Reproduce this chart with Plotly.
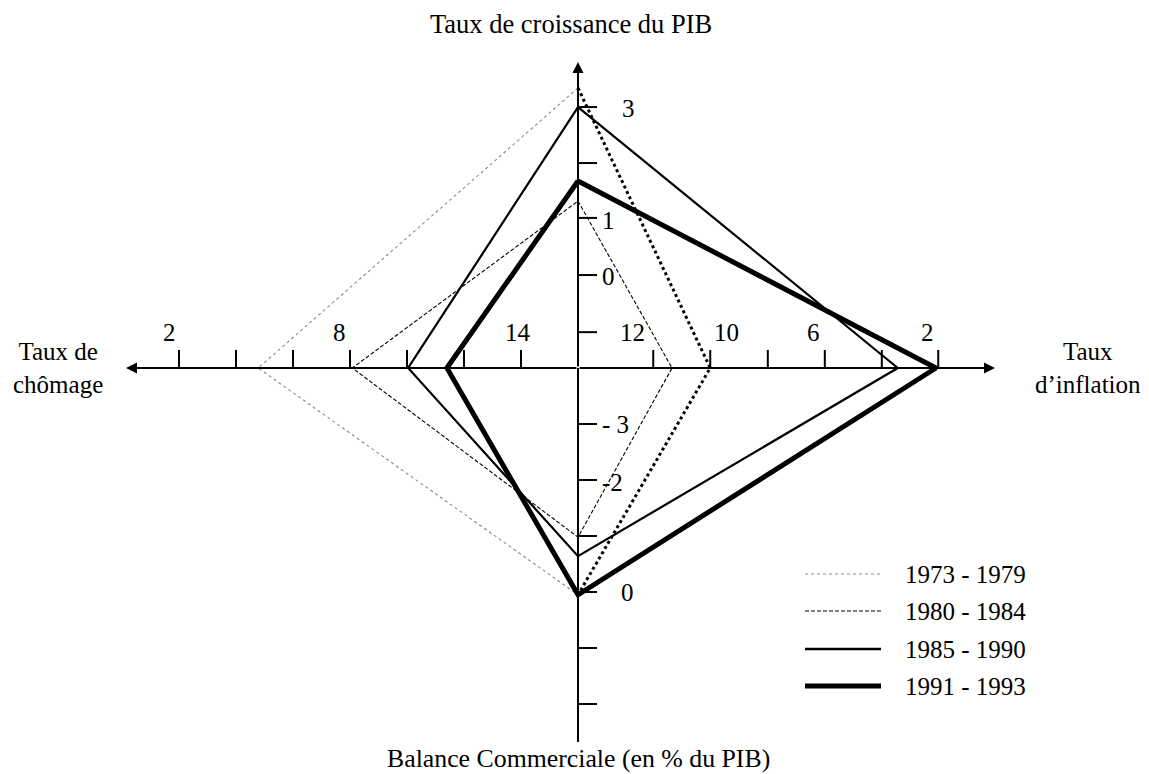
import plotly.graph_objects as go

# ---------------- data (in tick-step units from the centre) ----------------
periods = ["1973 - 1979", "1980 - 1984", "1985 - 1990", "1991 - 1993"]
growth = [5.00, 2.98, 4.66, 3.34]          # up   : Taux de croissance du PIB
inflation = [2.32, 1.65, 5.61, 6.28]       # right: Taux d'inflation
balance = [4.05, 3.02, 3.36, 4.05]         # down : Balance commerciale
unemployment = [5.61, 3.96, 2.98, 2.30]    # left : Taux de chômage

# tick marks on each half-axis
ticks_left = [-7, -6, -5, -4, -3, -2, -1]
ticks_right = [1.32, 2.32, 3.33, 4.33, 5.33, 6.32]
ticks_up = [0.64, 1.66, 2.68, 3.66, 4.66]
ticks_down = [-1, -2, -3, -4, -5, -6]

# tick labels (as printed in the original)
labels_left = ["2", "8", "14"]
labels_left_x = [-7.16, -4.18, -1.05]
labels_right = ["12", "10", "6", "2"]
labels_right_x = [0.95, 2.61, 4.14, 6.14]
labels_vert = ["3", "1", "0", "- 3", "-2", "0"]
labels_vert_y = [4.64, 2.64, 1.63, -1.00, -2.05, -4.00]
labels_vert_x = [0.74, 0.39, 0.39, 0.39, 0.39, 0.72]

OFF = 8  # page body margin
W, H = 1149 - OFF, 774 - OFF
CX, CY = 578, 368
UX, UY = 57.0, 56.0
FONT = "Liberation Serif, Times New Roman, serif"
FS = 25
FT = 26.5


def X(px):
    return (px - CX) / UX


def Y(py):
    return (CY - py) / UY


fig = go.Figure()

styles = [
    dict(color="#8a8a8a", width=1.1, dash="dot"),
    dict(color="black", width=1.1, dash="4px,2px"),
    dict(color="black", width=2.2, dash="solid"),
    dict(color="black", width=5, dash="solid"),
]

for i, p in enumerate(periods):
    up, rt, dn, lf = growth[i], inflation[i], balance[i], unemployment[i]
    if i == 0:
        fig.add_trace(go.Scatter(x=[0, -lf, 0], y=[up, 0, -dn], mode="lines",
                                 line=styles[0], name=p, showlegend=False,
                                 hoverinfo="skip"))
        fig.add_trace(go.Scatter(x=[0, rt, 0], y=[up, 0, -dn], mode="lines",
                                 line=dict(color="black", width=3, dash="dot"),
                                 name=p, showlegend=False, hoverinfo="skip"))
    else:
        fig.add_trace(go.Scatter(x=[0, rt, 0, -lf, 0], y=[up, 0, -dn, 0, up],
                                 mode="lines", line=styles[i], name=p,
                                 showlegend=False, hoverinfo="skip"))

axis_w = 2
TL = 18 / UY
TLx = 19 / UX
tx, ty = [], []
for t in ticks_left + ticks_right:
    tx += [t, t, None]
    ty += [0, TL, None]
for t in ticks_up + ticks_down:
    tx += [0, TLx, None]
    ty += [t, t, None]
fig.add_trace(go.Scatter(x=tx, y=ty, mode="lines", line=dict(color="black", width=axis_w),
                         showlegend=False, hoverinfo="skip"))

fig.add_shape(type="line", x0=0, x1=0, y0=0, y1=Y(742), line=dict(color="black", width=axis_w))
for (x0, y0, x1, y1) in [(0, 0, X(126), 0), (0, 0, X(995), 0), (0, 0, 0, Y(62))]:
    fig.add_annotation(x=x1, y=y1, ax=x0, ay=y0, xref="x", yref="y", axref="x", ayref="y",
                       text="", showarrow=True, arrowhead=2, arrowsize=1.1,
                       arrowwidth=axis_w, arrowcolor="black", standoff=0, startstandoff=0)

font = dict(family=FONT, size=FS, color="black")
tfont = dict(family=FONT, size=FT, color="black")
sfont = dict(family=FONT, size=25, color="black")

for t, xx in zip(labels_left, labels_left_x):
    fig.add_annotation(x=xx, y=Y(332), text=t, showarrow=False, font=font,
                       xanchor="center", yanchor="middle")
for t, xx in zip(labels_right, labels_right_x):
    fig.add_annotation(x=xx, y=Y(332), text=t, showarrow=False, font=font,
                       xanchor="center", yanchor="middle")
for t, xx, yy in zip(labels_vert, labels_vert_x, labels_vert_y):
    fig.add_annotation(x=xx, y=yy, text=t, showarrow=False, font=font,
                       xanchor="left", yanchor="middle")

fig.add_annotation(x=X(571), y=Y(24), text="Taux de croissance du PIB", showarrow=False,
                   font=tfont, xanchor="center", yanchor="middle")
fig.add_annotation(x=X(578), y=Y(758), text="Balance Commerciale (en % du PIB)", showarrow=False,
                   font=dict(family=FONT, size=25.8, color="black"),
                   xanchor="center", yanchor="middle")
fig.add_annotation(x=X(58), y=Y(368), text="Taux de<br>chômage", showarrow=False,
                   font=sfont, xanchor="center", yanchor="middle", align="center")
fig.add_annotation(x=X(1088), y=Y(368), text="Taux<br>d’inflation", showarrow=False,
                   font=sfont, xanchor="center", yanchor="middle", align="center")

leg_y = [574, 611, 649, 686]
for i, p in enumerate(periods):
    st = styles[i]
    lw = st["width"]
    if i == 2:
        lw = 2.6
    fig.add_shape(type="line", x0=X(805), x1=X(881), y0=Y(leg_y[i]), y1=Y(leg_y[i]),
                  line=dict(color=st["color"], width=lw, dash=st["dash"]))
    fig.add_annotation(x=X(903), y=Y(leg_y[i]), text=p, showarrow=False, font=font,
                       xanchor="left", yanchor="middle")

fig.update_layout(
    width=W, height=H, margin=dict(l=0, r=0, t=0, b=0),
    paper_bgcolor="white", plot_bgcolor="white", showlegend=False,
    xaxis=dict(range=[X(OFF), X(OFF + W)], visible=False, fixedrange=True),
    yaxis=dict(range=[Y(OFF + H), Y(OFF)], visible=False, fixedrange=True),
)

fig.write_html("out.html")
